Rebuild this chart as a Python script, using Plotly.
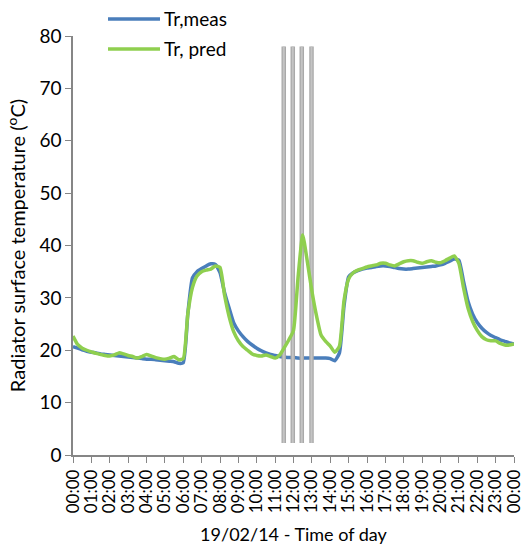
import plotly.graph_objects as go

# Time of day in hours, 15-minute steps from 00:00 to 00:00 the next day
hours = [i * 0.25 for i in range(97)]

# Measured radiator surface temperature (°C)
tr_meas = [
    20.7, 20.4, 20.1, 19.8, 19.6, 19.5, 19.3, 19.2,
    19.1, 19.0, 18.9, 18.8, 18.7, 18.6, 18.5, 18.4,
    18.3, 18.3, 18.2, 18.1, 18.0, 17.9, 17.8, 17.5,
    17.6, 27.0, 33.8, 35.0, 35.6, 36.1, 36.5, 36.4,
    34.8, 31.0, 28.0, 25.2, 23.7, 22.6, 21.7, 21.0,
    20.4, 19.9, 19.5, 19.2, 19.0, 18.8, 18.7, 18.6,
    18.6, 18.5, 18.5, 18.5, 18.5, 18.5, 18.5, 18.5,
    18.4, 18.0, 19.5, 28.5, 34.0, 34.8, 35.2, 35.5,
    35.7, 35.8, 36.0, 36.1, 36.1, 36.0, 35.8, 35.6,
    35.5, 35.5, 35.6, 35.7, 35.8, 35.9, 36.0, 36.1,
    36.3, 36.6, 37.0, 37.4, 37.2, 33.2, 29.3, 26.9,
    25.3, 24.2, 23.4, 22.8, 22.4, 22.0, 21.7, 21.4,
    21.2,
]

# Predicted radiator surface temperature (°C)
tr_pred = [
    22.7, 21.1, 20.4, 20.0, 19.7, 19.4, 19.2, 19.0,
    18.9, 19.1, 19.5, 19.3, 19.0, 18.8, 18.5, 18.8,
    19.2, 18.9, 18.6, 18.4, 18.3, 18.5, 18.8, 18.2,
    18.4, 27.0, 32.0, 34.2, 35.0, 35.3, 35.5, 36.1,
    35.8, 30.5, 26.4, 23.5, 21.8, 20.7, 20.0, 19.3,
    19.0, 18.9, 19.1, 18.8, 18.5, 19.1, 20.5, 22.0,
    23.8, 34.0, 42.0, 37.0, 31.3, 26.6, 22.9, 21.7,
    20.8, 19.6, 20.8, 29.5, 33.6, 34.8, 35.3, 35.6,
    35.9, 36.1, 36.3, 36.6, 36.6, 36.3, 36.1, 36.5,
    36.9, 37.1, 37.1, 36.8, 36.6, 36.9, 37.1, 36.8,
    36.7, 37.1, 37.6, 38.0, 36.6, 32.0, 28.0, 25.5,
    23.8, 22.6, 22.0, 21.8, 21.8, 21.3, 21.0, 21.0,
    21.2,
]

# Vertical marker bars around midday
bar_hours = [11.47, 11.96, 12.45, 12.98]
bar_low = 2.3
bar_high = 78.0

tick_hours = list(range(25))
tick_labels = [f"{h % 24:02d}:00" for h in tick_hours]

blue = "#4a7ebb"
green = "#8fcf4f"
font_family = "Lato, 'Open Sans', sans-serif"

fig = go.Figure()

fig.add_trace(go.Scatter(
    x=hours, y=tr_meas, mode="lines", name="Tr,meas",
    line=dict(color=blue, width=3.5, shape="spline", smoothing=0.5),
    showlegend=False,
))

# Marker bars: darker outline with a lighter core
bx, by = [], []
for h in bar_hours:
    bx += [h, h, None]
    by += [bar_low, bar_high, None]
fig.add_trace(go.Scatter(
    x=bx, y=by, mode="lines", line=dict(color="#a9a9a9", width=4.5),
    showlegend=False, hoverinfo="skip",
))
fig.add_trace(go.Scatter(
    x=bx, y=by, mode="lines", line=dict(color="#c4c4c4", width=2),
    showlegend=False, hoverinfo="skip",
))

fig.add_trace(go.Scatter(
    x=hours, y=tr_pred, mode="lines", name="Tr, pred",
    line=dict(color=green, width=3.5, shape="spline", smoothing=0.5),
    showlegend=False,
))

# Legend drawn in paper space above the plot area
legend_items = [("Tr,meas", blue, 19), ("Tr, pred", green, 49)]
W, H = 524, 548
ml, mr, mt, mb = 73, 10, 36, 93
pw, ph = W - ml - mr, H - mt - mb


def px_to_paper(px, py):
    return (px - ml) / pw, (H - mb - py) / ph


for label, color, ypx in legend_items:
    x0, y0 = px_to_paper(108, ypx)
    x1, _ = px_to_paper(160, ypx)
    fig.add_shape(type="line", xref="paper", yref="paper",
                  x0=x0, x1=x1, y0=y0, y1=y0,
                  line=dict(color=color, width=3.5))
    tx, _ = px_to_paper(162, ypx)
    fig.add_annotation(xref="paper", yref="paper", x=tx, y=y0,
                       text=label, showarrow=False, xanchor="left",
                       yanchor="middle",
                       font=dict(family=font_family, size=19, color="#000000"))

fig.update_layout(
    width=W, height=H,
    margin=dict(l=ml, r=mr, t=mt, b=mb),
    plot_bgcolor="white", paper_bgcolor="white",
    font=dict(family=font_family, size=18, color="#000000"),
)

fig.update_xaxes(
    range=[0, 24], tickvals=tick_hours, ticktext=tick_labels,
    tickangle=-90, ticks="outside", ticklen=6, tickcolor="#868686",
    showline=True, linecolor="#868686", linewidth=1.5,
    showgrid=False, zeroline=False, automargin=False,
    ticklabeloverflow="allow",
    tickfont=dict(size=17),
    title=dict(text="19/02/14 - Time of day", font=dict(size=18), standoff=16),
)

fig.update_yaxes(
    range=[0, 80], dtick=10, ticks="outside", ticklen=6, tickcolor="#868686",
    showline=True, linecolor="#868686", linewidth=1.5,
    showgrid=False, zeroline=False, automargin=False,
    tickfont=dict(size=19),
    title=dict(text="Radiator surface temperature (<sup>o</sup>C)",
               font=dict(size=20), standoff=8),
)

fig.write_html("out.html")
